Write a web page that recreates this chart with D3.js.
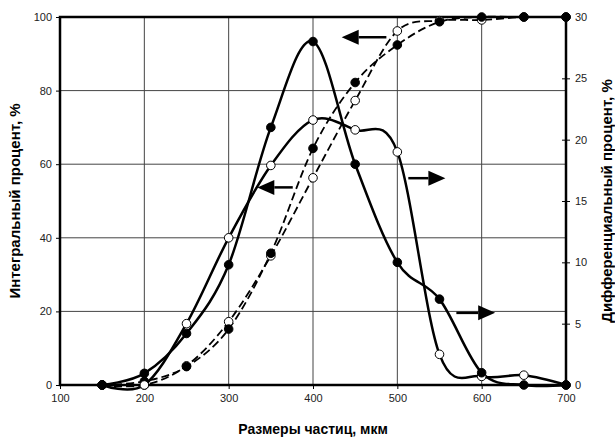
<!DOCTYPE html>
<html>
<head>
<meta charset="utf-8">
<script src="https://cdn.jsdelivr.net/npm/d3@7"></script>
<style>
  body { margin: 0; background: #fff; }
  svg { font-family: "Liberation Sans", Arial, sans-serif; }
  .tick text { font-size: 11px; fill: #222; }
</style>
</head>
<body>
<svg id="chart" width="615" height="439"></svg>
<script>
// particle size, mkm
var sizes = [150, 200, 250, 300, 350, 400, 450, 500, 550, 600, 650, 700];

// integral percent (left axis), dashed
var integralFilled = [0, 1, 5, 15.2, 35.8, 64.3, 82.2, 92.4, 98.7, 100, 100, 100];
var integralOpen   = [0, 0, 5.2, 17.2, 35.1, 56.3, 77.3, 96.2, 99, 99.2, 100, 100];

// differential percent (right axis), solid
var diffFilled = [0, 0.95, 4.2, 9.8, 21.0, 28.0, 18.0, 10.0, 7.0, 1.0, 0, 0];
var diffOpen   = [0, 0, 5.0, 12.0, 17.9, 21.6, 20.8, 19.0, 2.5, 0.7, 0.8, 0];

var xTicks = [100, 200, 300, 400, 500, 600, 700];
var leftTicks = [0, 20, 40, 60, 80, 100];
var rightTicks = [0, 5, 10, 15, 20, 25, 30];

// arrows: [x tail, x tip, y (left axis units)]
var arrows = [
  [487, 434, 94.5],
  [376, 334, 53.7],
  [513, 557, 56.2],
  [570, 616, 19.6]
];

var margin = {top: 17, right: 49, bottom: 54, left: 60},
    width = 615 - margin.left - margin.right,
    height = 439 - margin.top - margin.bottom;

var svg = d3.select("#chart");
var g = svg.append("g")
    .attr("transform", "translate(" + margin.left + "," + margin.top + ")");

var x = d3.scaleLinear().domain([100, 700]).range([0, width]);
var yL = d3.scaleLinear().domain([0, 100]).range([height, 0]);
var yR = d3.scaleLinear().domain([0, 30]).range([height, 0]);

// grid
g.selectAll(".vgrid")
    .data(xTicks.slice(1, -1))
    .enter().append("line")
    .attr("x1", function(d) { return x(d); })
    .attr("x2", function(d) { return x(d); })
    .attr("y1", 0).attr("y2", height)
    .attr("stroke", "#444").attr("stroke-width", 1);

g.selectAll(".hgrid")
    .data(leftTicks.slice(1, -1))
    .enter().append("line")
    .attr("y1", function(d) { return yL(d); })
    .attr("y2", function(d) { return yL(d); })
    .attr("x1", 0).attr("x2", width)
    .attr("stroke", "#444").attr("stroke-width", 1);

// axes
var xAxis = g.append("g")
    .attr("transform", "translate(0," + height + ")")
    .call(d3.axisBottom(x).tickValues(xTicks).tickSize(4).tickPadding(5));

var leftAxis = g.append("g")
    .call(d3.axisLeft(yL).tickValues(leftTicks).tickSize(4).tickPadding(4));

var rightAxis = g.append("g")
    .attr("transform", "translate(" + width + ",0)")
    .call(d3.axisRight(yR).tickValues(rightTicks).tickSize(4).tickPadding(5));

[xAxis, leftAxis, rightAxis].forEach(function(a) {
  a.select(".domain").remove();
  a.selectAll(".tick line").attr("stroke", "#000");
});
rightAxis.selectAll(".tick line").attr("x1", -4);

// frame
g.append("rect")
    .attr("x", 0).attr("y", 0)
    .attr("width", width).attr("height", height)
    .attr("fill", "none")
    .attr("stroke", "#000")
    .attr("stroke-width", 2.5);

// lines
var curve = d3.curveCardinal.tension(0);

function lineFor(yScale) {
  return d3.line()
      .x(function(d) { return x(d[0]); })
      .y(function(d) { return yScale(d[1]); })
      .curve(curve);
}

var series = [
  {vals: integralOpen, y: yL, dash: "8,4", open: true, w: 1.8},
  {vals: integralFilled, y: yL, dash: "8,4", open: false, w: 1.8},
  {vals: diffOpen, y: yR, dash: null, open: true, w: 2.5},
  {vals: diffFilled, y: yR, dash: null, open: false, w: 2.5}
];

series.forEach(function(s) {
  var pts = sizes.map(function(d, i) { return [d, s.vals[i]]; });
  g.append("path")
      .datum(pts)
      .attr("d", lineFor(s.y))
      .attr("fill", "none")
      .attr("stroke", "#000")
      .attr("stroke-width", s.w)
      .attr("stroke-dasharray", s.dash);
});

series.forEach(function(s) {
  var pts = sizes.map(function(d, i) { return [d, s.vals[i]]; });
  g.selectAll(null)
      .data(pts)
      .enter().append("circle")
      .attr("cx", function(d) { return x(d[0]); })
      .attr("cy", function(d) { return s.y(d[1]); })
      .attr("r", 4.3)
      .attr("fill", s.open ? "#fff" : "#000")
      .attr("stroke", "#000")
      .attr("stroke-width", 1);
});

// arrows
arrows.forEach(function(a) {
  var x0 = x(a[0]), x1 = x(a[1]), yy = yL(a[2]);
  var dir = x1 > x0 ? 1 : -1;
  var headLen = 17, headHalf = 7.5;
  g.append("line")
      .attr("x1", x0).attr("x2", x1 - dir * headLen)
      .attr("y1", yy).attr("y2", yy)
      .attr("stroke", "#000").attr("stroke-width", 2.5);
  g.append("path")
      .attr("d", "M" + x1 + "," + yy +
                 "L" + (x1 - dir * headLen) + "," + (yy - headHalf) +
                 "L" + (x1 - dir * headLen) + "," + (yy + headHalf) + "Z")
      .attr("fill", "#000");
});

// titles
svg.append("text")
    .attr("x", margin.left + width / 2)
    .attr("y", 434)
    .attr("text-anchor", "middle")
    .style("font-size", "14px")
    .style("font-weight", "bold")
    .text("Размеры частиц, мкм");

svg.append("text")
    .attr("transform", "translate(20," + (margin.top + height / 2) + ") rotate(-90)")
    .attr("text-anchor", "middle")
    .style("font-size", "15px")
    .style("font-weight", "bold")
    .text("Интегральный процент, %");

svg.append("text")
    .attr("transform", "translate(612," + (margin.top + height / 2) + ") rotate(-90)")
    .attr("text-anchor", "middle")
    .style("font-size", "15px")
    .style("font-weight", "bold")
    .text("Дифференциальный процент, %");
</script>
</body>
</html>
